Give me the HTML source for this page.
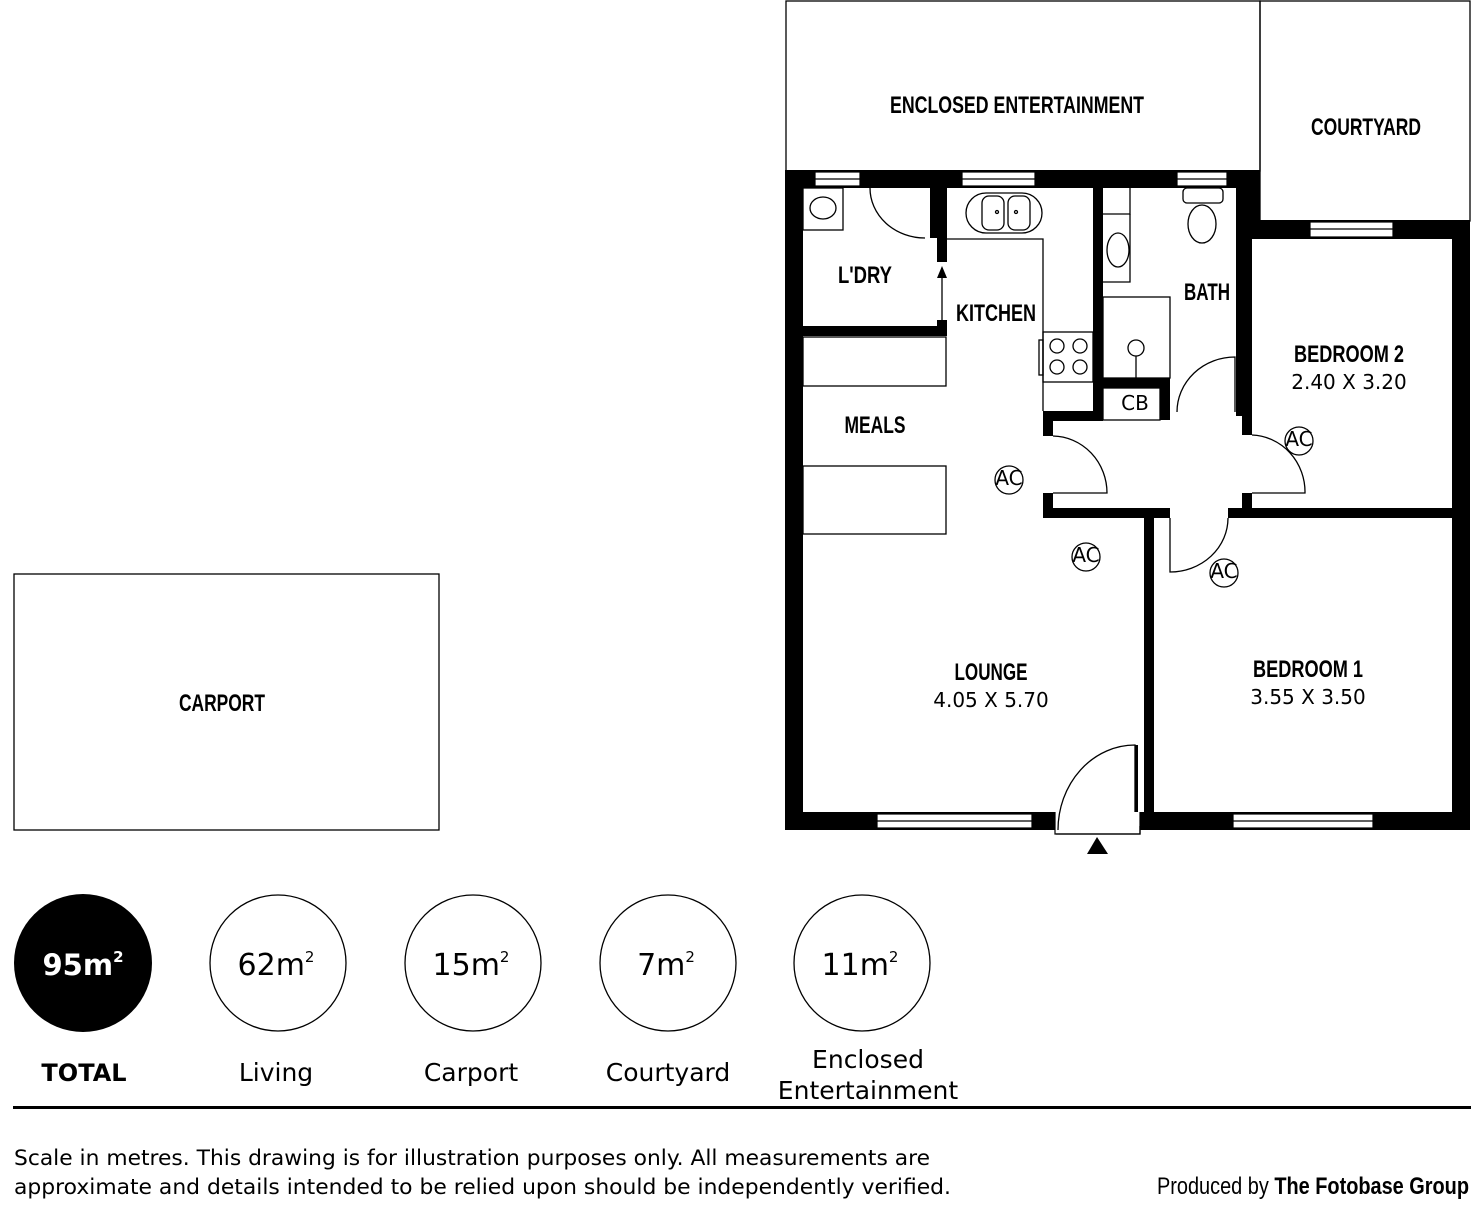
<!DOCTYPE html>
<html><head><meta charset="utf-8"><style>
html,body{margin:0;padding:0;background:#fff;}
svg{display:block;}
.lb{font-family:"Liberation Sans Narrow","Liberation Sans",sans-serif;font-weight:bold;font-size:24px;fill:#000;}
.dm{font-family:"DejaVu Sans","Liberation Sans",sans-serif;font-size:20px;fill:#000;}
.ln{fill:none;stroke:#000;stroke-width:1.3;}
</style></head><body>
<svg width="1472" height="1208" viewBox="0 0 1472 1208" xmlns="http://www.w3.org/2000/svg">
<rect x="0" y="0" width="1472" height="1208" fill="#fff"/>
<rect x="786" y="1" width="474" height="170" class="ln" stroke-width="1.6"/>
<rect x="1260" y="1" width="210" height="220" class="ln" stroke-width="1.6"/>
<rect x="14" y="574" width="425" height="256" class="ln" stroke-width="1.6"/>
<g fill="#000">
<rect x="785" y="170" width="18" height="660"/>
<rect x="785" y="812" width="685" height="18"/>
<rect x="1452" y="220" width="18" height="610"/>
<rect x="785" y="170" width="145" height="18"/>
<rect x="930" y="170" width="330" height="18"/>
<rect x="1242" y="170" width="18" height="68"/>
<rect x="1242" y="220" width="228" height="19"/>
<rect x="930" y="170" width="7" height="68"/>
<rect x="937" y="188" width="10" height="74"/>
<rect x="937" y="320" width="10" height="16"/>
<rect x="803" y="326" width="144" height="10"/>
<rect x="1093" y="188" width="10" height="232"/>
<rect x="1103" y="378" width="67" height="10"/>
<rect x="1160" y="378" width="10" height="42"/>
<rect x="1043" y="411" width="60" height="10"/>
<rect x="1043" y="411" width="10" height="25"/>
<rect x="1236" y="188" width="8" height="228"/>
<rect x="1242" y="238" width="10" height="197"/>
<rect x="1043" y="493" width="10" height="25"/>
<rect x="1043" y="508" width="127" height="10"/>
<rect x="1242" y="493" width="10" height="25"/>
<rect x="1228" y="508" width="224" height="10"/>
<rect x="1144" y="508" width="10" height="322"/>
<rect x="1135" y="745" width="3" height="67"/>
</g>
<g fill="#fff" stroke="#000" stroke-width="1.2">
<rect x="815" y="172" width="45" height="14"/><line x1="815" y1="179" x2="860" y2="179"/>
<rect x="962" y="172" width="73" height="14"/><line x1="962" y1="179" x2="1035" y2="179"/>
<rect x="1177" y="172" width="50" height="14"/><line x1="1177" y1="179" x2="1227" y2="179"/>
<rect x="1310" y="222" width="83" height="15"/><line x1="1310" y1="229" x2="1393" y2="229"/>
<rect x="877" y="814" width="155" height="14"/><line x1="877" y1="821" x2="1032" y2="821"/>
<rect x="1233" y="814" width="140" height="14"/><line x1="1233" y1="821" x2="1373" y2="821"/>
<rect x="1055" y="812" width="85" height="22" stroke="none"/>
<path d="M1055 812 V834 H1140 V812" fill="none"/>
</g>
<rect x="1060" y="812" width="75" height="20" fill="#fff"/>
<path d="M1056 834 H1140 V826" class="ln"/>
<g class="ln">
<path d="M870 188 A55 50 0 0 0 925 238"/>
<path d="M942 330 V272"/>
<path d="M1235 412 V357 A58 55 0 0 0 1177 412"/>
<path d="M1053 436 A55 57 0 0 1 1107 493 H1053"/>
<path d="M1252 435 A55 57 0 0 1 1305 493 H1252"/>
<path d="M1170 518 V572 A58 54 0 0 0 1228 518"/>
<path d="M1135 812 V745 A77 85 0 0 0 1058 830"/>
</g>
<polygon points="942,266 937,278 947,278" fill="#000"/>
<polygon points="1097,837 1087,854 1108,854" fill="#000"/>
<g class="ln">
<rect x="803" y="188" width="40" height="42"/>
<ellipse cx="823" cy="208" rx="13" ry="11"/>
<rect x="966" y="193" width="76" height="40" rx="20"/>
<rect x="982" y="196" width="22" height="34" rx="7"/>
<rect x="1008" y="196" width="22" height="34" rx="7"/>
<circle cx="997" cy="212" r="1.5"/><circle cx="1016" cy="212" r="1.5"/>
<path d="M947 239 H1043 V411"/>
<rect x="1043" y="332" width="50" height="50"/>
<rect x="1039" y="340" width="4" height="35"/>
<circle cx="1057" cy="346" r="7"/><circle cx="1080" cy="346" r="7"/>
<circle cx="1057" cy="367" r="7"/><circle cx="1080" cy="367" r="7"/>
<path d="M1103 214 H1130 V188"/>
<path d="M1103 282 H1130 V214"/>
<ellipse cx="1118" cy="250" rx="11" ry="17"/>
<rect x="1183" y="188" width="40" height="15" rx="4"/>
<ellipse cx="1202" cy="224" rx="14" ry="19"/>
<rect x="1103" y="297" width="67" height="81"/>
<circle cx="1136" cy="348" r="8"/><line x1="1136" y1="356" x2="1136" y2="378"/>
<rect x="1103" y="388" width="57" height="32"/>
<rect x="803" y="337" width="143" height="49"/>
<rect x="803" y="466" width="143" height="68"/>
<circle cx="1009" cy="480" r="14"/>
<circle cx="1086" cy="557" r="14"/>
<circle cx="1299" cy="441" r="14"/>
<circle cx="1224" cy="573" r="14"/>
</g>
<g class="dm" font-size="14" text-anchor="middle">
<text x="1009" y="485">AC</text><text x="1086" y="562">AC</text>
<text x="1299" y="446">AC</text><text x="1224" y="578">AC</text>
</g>
<text class="dm" font-size="16" text-anchor="middle" x="1135" y="410">CB</text>
<g class="lb" text-anchor="middle">
<text x="1017" y="113" textLength="254" lengthAdjust="spacingAndGlyphs">ENCLOSED ENTERTAINMENT</text>
<text x="1366" y="135" textLength="110" lengthAdjust="spacingAndGlyphs">COURTYARD</text>
<text x="865" y="283" textLength="54" lengthAdjust="spacingAndGlyphs">L'DRY</text>
<text x="996" y="321" textLength="80" lengthAdjust="spacingAndGlyphs">KITCHEN</text>
<text x="1207" y="300" textLength="46" lengthAdjust="spacingAndGlyphs">BATH</text>
<text x="1349" y="362" textLength="110" lengthAdjust="spacingAndGlyphs">BEDROOM 2</text>
<text x="875" y="433" textLength="61" lengthAdjust="spacingAndGlyphs">MEALS</text>
<text x="991" y="680" textLength="73" lengthAdjust="spacingAndGlyphs">LOUNGE</text>
<text x="1308" y="677" textLength="110" lengthAdjust="spacingAndGlyphs">BEDROOM 1</text>
<text x="222" y="711" textLength="86" lengthAdjust="spacingAndGlyphs">CARPORT</text>
</g>
<g class="dm" text-anchor="middle">
<text x="1349" y="389">2.40 X 3.20</text>
<text x="991" y="707">4.05 X 5.70</text>
<text x="1308" y="704">3.55 X 3.50</text>
</g>
<circle cx="83" cy="963" r="69" fill="#000"/>
<g class="ln" stroke-width="3">
<circle cx="278" cy="963" r="68"/><circle cx="473" cy="963" r="68"/>
<circle cx="668" cy="963" r="68"/><circle cx="862" cy="963" r="68"/>
</g>
<g font-family="'DejaVu Sans','Liberation Sans',sans-serif" text-anchor="middle" font-size="30">
<text x="83" y="975" fill="#fff" font-weight="bold" font-size="29">95m<tspan font-size="15" dy="-13">2</tspan></text>
<text x="276" y="975">62m<tspan font-size="15" dy="-13">2</tspan></text>
<text x="471" y="975">15m<tspan font-size="15" dy="-13">2</tspan></text>
<text x="666" y="975">7m<tspan font-size="15" dy="-13">2</tspan></text>
<text x="860" y="975">11m<tspan font-size="15" dy="-13">2</tspan></text>
</g>
<g font-family="'DejaVu Sans','Liberation Sans',sans-serif" text-anchor="middle" font-size="25">
<text x="84" y="1081" font-weight="bold" font-size="24">TOTAL</text>
<text x="276" y="1081">Living</text>
<text x="471" y="1081">Carport</text>
<text x="668" y="1081">Courtyard</text>
<text x="868" y="1068">Enclosed</text>
<text x="868" y="1099">Entertainment</text>
</g>
<rect x="13" y="1106" width="1458" height="3" fill="#000"/>
<g font-family="'DejaVu Sans','Liberation Sans',sans-serif" font-size="21">
<text x="14" y="1165" textLength="916" lengthAdjust="spacingAndGlyphs">Scale in metres. This drawing is for illustration purposes only. All measurements are</text>
<text x="14" y="1194" textLength="937" lengthAdjust="spacingAndGlyphs">approximate and details intended to be relied upon should be independently verified.</text>
</g>
<text x="1157" y="1194" font-family="'Liberation Sans Narrow','Liberation Sans',sans-serif" font-size="24" textLength="312" lengthAdjust="spacingAndGlyphs">Produced by <tspan font-weight="bold">The Fotobase Group</tspan></text>
</svg>
</body></html>
